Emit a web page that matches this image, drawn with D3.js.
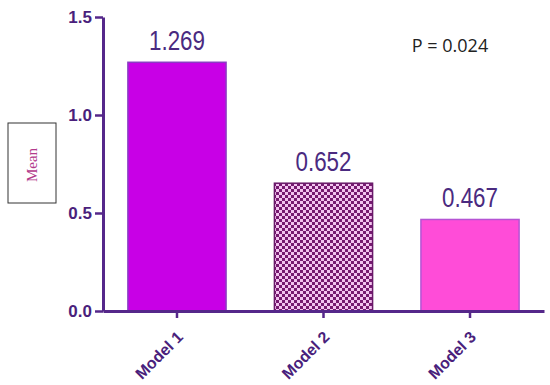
<!DOCTYPE html>
<html>
<head>
<meta charset="utf-8">
<script src="https://cdn.jsdelivr.net/npm/d3@7/dist/d3.min.js"></script>
<style>
  html, body { margin: 0; padding: 0; background: #fff; }
  svg { display: block; }
</style>
</head>
<body>
<svg id="chart" width="550" height="385"></svg>
<script>
const categories = ["Model 1", "Model 2", "Model 3"];
const values = [1.269, 0.652, 0.467];
const valueLabels = ["1.269", "0.652", "0.467"];
const yTicks = [0, 0.5, 1.0, 1.5];
const pText = "P = 0.024";
const yTitle = "Mean";

const svg = d3.select("#chart");
const axisColor = "#55278a";
const textColor = "#4a1f7c";

const defs = svg.append("defs");
const pat = defs.append("pattern").attr("id", "checker")
  .attr("patternUnits", "userSpaceOnUse").attr("width", 6).attr("height", 6);
pat.append("rect").attr("width", 6).attr("height", 6).attr("fill", "#f3c4f0");
pat.append("rect").attr("width", 3).attr("height", 3).attr("fill", "#761a70");
pat.append("rect").attr("x", 3).attr("y", 3).attr("width", 3).attr("height", 3).attr("fill", "#761a70");

const fills = ["#c800e6", "url(#checker)", "#ff4cd8"];
const strokes = ["#8a3cc4", "#6a1a6a", "#b454d4"];

const x = d3.scaleBand().domain(categories).range([103, 544])
  .paddingInner(0.33).paddingOuter(0.17);
const y = d3.scaleLinear().domain([0, 1.5]).range([311, 17]);

// bars
svg.append("g").selectAll("rect").data(values).join("rect")
  .attr("x", (d, i) => x(categories[i]))
  .attr("y", d => y(d))
  .attr("width", x.bandwidth())
  .attr("height", d => y(0) - y(d))
  .attr("fill", (d, i) => fills[i])
  .attr("stroke", (d, i) => strokes[i])
  .attr("stroke-width", 1.5);

// value labels (narrow look via textLength)
svg.append("g").selectAll("text").data(values).join("text")
  .attr("x", (d, i) => x(categories[i]) + x.bandwidth() / 2)
  .attr("y", d => y(d) - 12)
  .attr("text-anchor", "middle")
  .attr("font-family", "'Liberation Sans', Arial, sans-serif")
  .attr("font-size", 28)
  .attr("textLength", 56)
  .attr("lengthAdjust", "spacingAndGlyphs")
  .attr("fill", "#4a2a80")
  .text((d, i) => valueLabels[i]);

// y axis
const yAxis = svg.append("g").attr("transform", "translate(103,0)")
  .call(d3.axisLeft(y).tickValues(yTicks).tickFormat(d3.format(".1f"))
    .tickSize(8).tickSizeOuter(0).tickPadding(3));
yAxis.select(".domain").attr("stroke", axisColor).attr("stroke-width", 3);
yAxis.selectAll(".tick line").attr("stroke", axisColor).attr("stroke-width", 2.5);
yAxis.selectAll(".tick text")
  .attr("font-family", "'Liberation Sans', Arial, sans-serif")
  .attr("font-size", 17).attr("font-weight", "bold").attr("fill", textColor);

// x axis
const xAxis = svg.append("g").attr("transform", "translate(0,311)")
  .call(d3.axisBottom(x).tickSize(7).tickSizeOuter(0));
xAxis.select(".domain").attr("stroke", axisColor).attr("stroke-width", 3);
xAxis.selectAll(".tick line").attr("stroke", axisColor).attr("stroke-width", 2.5);
xAxis.selectAll(".tick text")
  .attr("font-family", "'Liberation Sans', Arial, sans-serif")
  .attr("font-size", 16).attr("font-weight", "bold").attr("fill", textColor)
  .attr("text-anchor", "end")
  .attr("dy", null)
  .attr("transform", "translate(0,20) rotate(-45)");

// P value
svg.append("text")
  .attr("x", 450).attr("y", 52)
  .attr("text-anchor", "middle")
  .attr("font-family", "'Open Sans', 'Liberation Sans', sans-serif")
  .attr("font-size", 18)
  .attr("fill", "#222")
  .text(pText);

// y title box
svg.append("rect").attr("x", 8).attr("y", 123).attr("width", 48).attr("height", 80)
  .attr("fill", "#fff").attr("stroke", "#333").attr("stroke-width", 1);
svg.append("text")
  .attr("transform", "translate(37,165) rotate(-90)")
  .attr("text-anchor", "middle")
  .attr("font-family", "'Liberation Serif', 'Times New Roman', serif")
  .attr("font-size", 15)
  .attr("fill", "#b23a8c")
  .text(yTitle);
</script>
</body>
</html>
